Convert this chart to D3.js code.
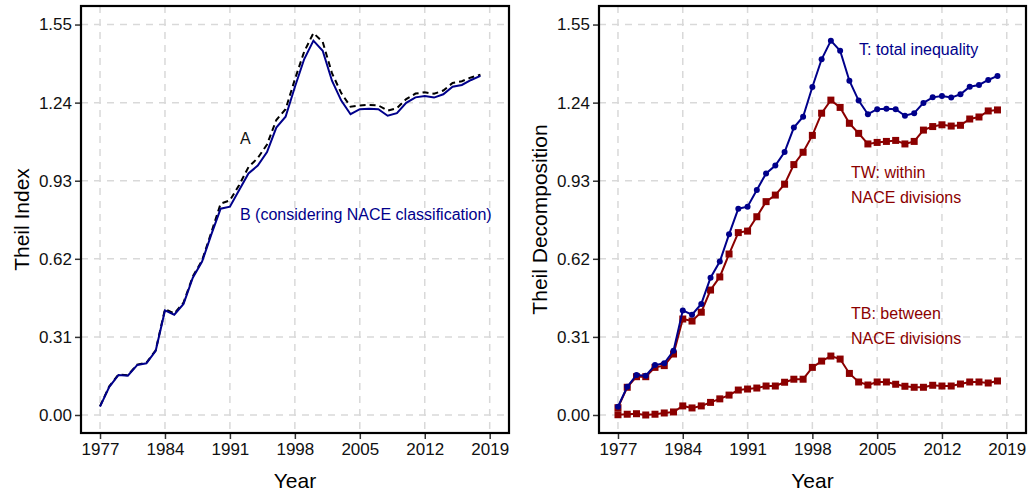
<!DOCTYPE html>
<html>
<head>
<meta charset="utf-8">
<script src="https://cdn.jsdelivr.net/npm/d3@7"></script>
<style>
    body { margin: 0; background: #fff; }
    svg text { font-family: "Liberation Sans", Arial, sans-serif; }
</style>
</head>
<body>
<div id="chart"></div>
<script>

// years on the x axis
var years = d3.range(1977, 2019);

// B: Theil index considering NACE classification (= T, total inequality)
var theilB = [0.033, 0.112, 0.159, 0.156, 0.198, 0.205, 0.255, 0.415, 0.398, 0.441,
    0.545, 0.609, 0.717, 0.819, 0.827, 0.893, 0.959, 0.990, 1.044, 1.141,
    1.184, 1.302, 1.412, 1.486, 1.446, 1.327, 1.248, 1.194, 1.214, 1.216,
    1.214, 1.188, 1.198, 1.239, 1.261, 1.266, 1.260, 1.273, 1.303, 1.310,
    1.330, 1.346];

// A: Theil index (dashed)
var theilA = [0.035, 0.114, 0.161, 0.158, 0.200, 0.207, 0.257, 0.420, 0.403, 0.446,
    0.550, 0.614, 0.725, 0.839, 0.852, 0.913, 0.984, 1.020, 1.074, 1.171,
    1.214, 1.332, 1.442, 1.516, 1.481, 1.357, 1.278, 1.224, 1.229, 1.231,
    1.229, 1.208, 1.218, 1.254, 1.276, 1.281, 1.275, 1.288, 1.318, 1.325,
    1.340, 1.351];

// TW: within NACE divisions
var theilTW = [0.029, 0.110, 0.152, 0.152, 0.189, 0.196, 0.242, 0.381, 0.373, 0.408,
    0.496, 0.548, 0.639, 0.724, 0.730, 0.787, 0.847, 0.873, 0.916, 0.994,
    1.043, 1.110, 1.198, 1.250, 1.221, 1.158, 1.118, 1.076, 1.082, 1.086,
    1.090, 1.076, 1.086, 1.131, 1.145, 1.152, 1.147, 1.150, 1.175, 1.183,
    1.207, 1.211];

// TB: between NACE divisions
var theilTB = [0.001, 0.003, 0.005, 0.000, 0.003, 0.008, 0.012, 0.036, 0.028, 0.036,
    0.050, 0.064, 0.079, 0.099, 0.103, 0.107, 0.115, 0.115, 0.130, 0.142,
    0.142, 0.189, 0.214, 0.234, 0.222, 0.165, 0.131, 0.119, 0.131, 0.131,
    0.122, 0.114, 0.110, 0.110, 0.118, 0.115, 0.115, 0.123, 0.131, 0.131,
    0.127, 0.135];

var xTicks = [1977, 1984, 1991, 1998, 2005, 2012, 2019];
var yTicks = [0, 0.31, 0.62, 0.93, 1.24, 1.55];

var blue = "#00008b";
var red = "#8b0000";

var svg = d3.select("#chart").append("svg")
    .attr("width", 1030)
    .attr("height", 493);

/**
 * Draws one panel: grid, axes and titles; returns scales and the group
 */
function drawPanel(left, right, yTitle) {
    var top = 6, bottom = 433;

    var x = d3.scaleLinear().domain([1974.95, 2021.08]).range([left, right]);
    var y = d3.scaleLinear().domain([-0.0715, 1.6236]).range([bottom, top]);

    var g = svg.append("g");

    // dashed grid lines
    g.selectAll(".vgrid").data(xTicks).enter().append("line")
        .attr("x1", d => x(d)).attr("x2", d => x(d))
        .attr("y1", top).attr("y2", bottom)
        .attr("stroke", "#d9d9d9").attr("stroke-width", 1.5)
        .attr("stroke-dasharray", "7,6");
    g.selectAll(".hgrid").data(yTicks).enter().append("line")
        .attr("x1", left).attr("x2", right)
        .attr("y1", d => y(d)).attr("y2", d => y(d))
        .attr("stroke", "#d9d9d9").attr("stroke-width", 1.5)
        .attr("stroke-dasharray", "7,6");

    //axes
    var xAxis = d3.axisBottom(x).tickValues(xTicks).tickFormat(d3.format("d"))
        .tickSize(6).tickPadding(4);
    var yAxis = d3.axisLeft(y).tickValues(yTicks).tickFormat(d3.format(".2f"))
        .tickSize(6).tickPadding(3);

    var gx = g.append("g").attr("transform", "translate(0," + bottom + ")").call(xAxis);
    var gy = g.append("g").attr("transform", "translate(" + left + ",0)").call(yAxis);
    [gx, gy].forEach(function (a) {
        a.select(".domain").remove();
        a.selectAll(".tick line").attr("stroke", "#333").attr("stroke-width", 1.5);
        a.selectAll(".tick text").attr("fill", "#111").style("font-size", "17px");
    });

    g.append("text")
        .attr("x", (left + right) / 2).attr("y", 488)
        .attr("text-anchor", "middle")
        .style("font-size", "21px")
        .text("Year");

    g.append("text")
        .attr("transform", "translate(" + (left - 52) + "," + ((top + bottom) / 2) + ") rotate(-90)")
        .attr("text-anchor", "middle")
        .style("font-size", "21px")
        .text(yTitle);

    return {g: g, x: x, y: y, top: top, bottom: bottom, left: left, right: right};
}

function drawBox(p) {
    p.g.append("rect")
        .attr("x", p.left).attr("y", p.top)
        .attr("width", p.right - p.left).attr("height", p.bottom - p.top)
        .attr("fill", "none").attr("stroke", "#000").attr("stroke-width", 2.2);
}

// ---- left panel ----
var p1 = drawPanel(81, 509, "Theil Index");

var line1 = d3.line()
    .x((d, i) => p1.x(years[i]))
    .y(d => p1.y(d));

p1.g.append("path").datum(theilA)
    .attr("d", line1)
    .attr("fill", "none").attr("stroke", "#000")
    .attr("stroke-width", 2).attr("stroke-dasharray", "6,4");

p1.g.append("path").datum(theilB)
    .attr("d", line1)
    .attr("fill", "none").attr("stroke", blue)
    .attr("stroke-width", 2);

p1.g.append("text").attr("x", 240).attr("y", 144)
    .style("font-size", "16px").attr("fill", "#111").text("A");
p1.g.append("text").attr("x", 240).attr("y", 220)
    .style("font-size", "16px").attr("fill", blue)
    .text("B (considering NACE classification)");

drawBox(p1);

// ---- right panel ----
var p2 = drawPanel(599, 1026, "Theil Decomposition");

var line2 = d3.line()
    .x((d, i) => p2.x(years[i]))
    .y(d => p2.y(d));

[theilTB, theilTW].forEach(function (series) {
    p2.g.append("path").datum(series)
        .attr("d", line2)
        .attr("fill", "none").attr("stroke", red)
        .attr("stroke-width", 2);
    p2.g.selectAll(null).data(series).enter().append("rect")
        .attr("x", (d, i) => p2.x(years[i]) - 3.5)
        .attr("y", d => p2.y(d) - 3.5)
        .attr("width", 7).attr("height", 7)
        .attr("fill", red);
});

p2.g.append("path").datum(theilB)
    .attr("d", line2)
    .attr("fill", "none").attr("stroke", blue)
    .attr("stroke-width", 2);
p2.g.selectAll(null).data(theilB).enter().append("circle")
    .attr("cx", (d, i) => p2.x(years[i]))
    .attr("cy", d => p2.y(d))
    .attr("r", 3)
    .attr("fill", blue);

var labels = [
    {text: "T: total inequality", x: 859, y: 55, color: blue},
    {text: "TW: within", x: 851, y: 178, color: red},
    {text: "NACE divisions", x: 851, y: 203, color: red},
    {text: "TB: between", x: 851, y: 319, color: red},
    {text: "NACE divisions", x: 851, y: 344, color: red}
];
p2.g.selectAll(".lab").data(labels).enter().append("text")
    .attr("x", d => d.x).attr("y", d => d.y)
    .attr("fill", d => d.color)
    .style("font-size", "16px")
    .text(d => d.text);

drawBox(p2);

</script>
</body>
</html>
